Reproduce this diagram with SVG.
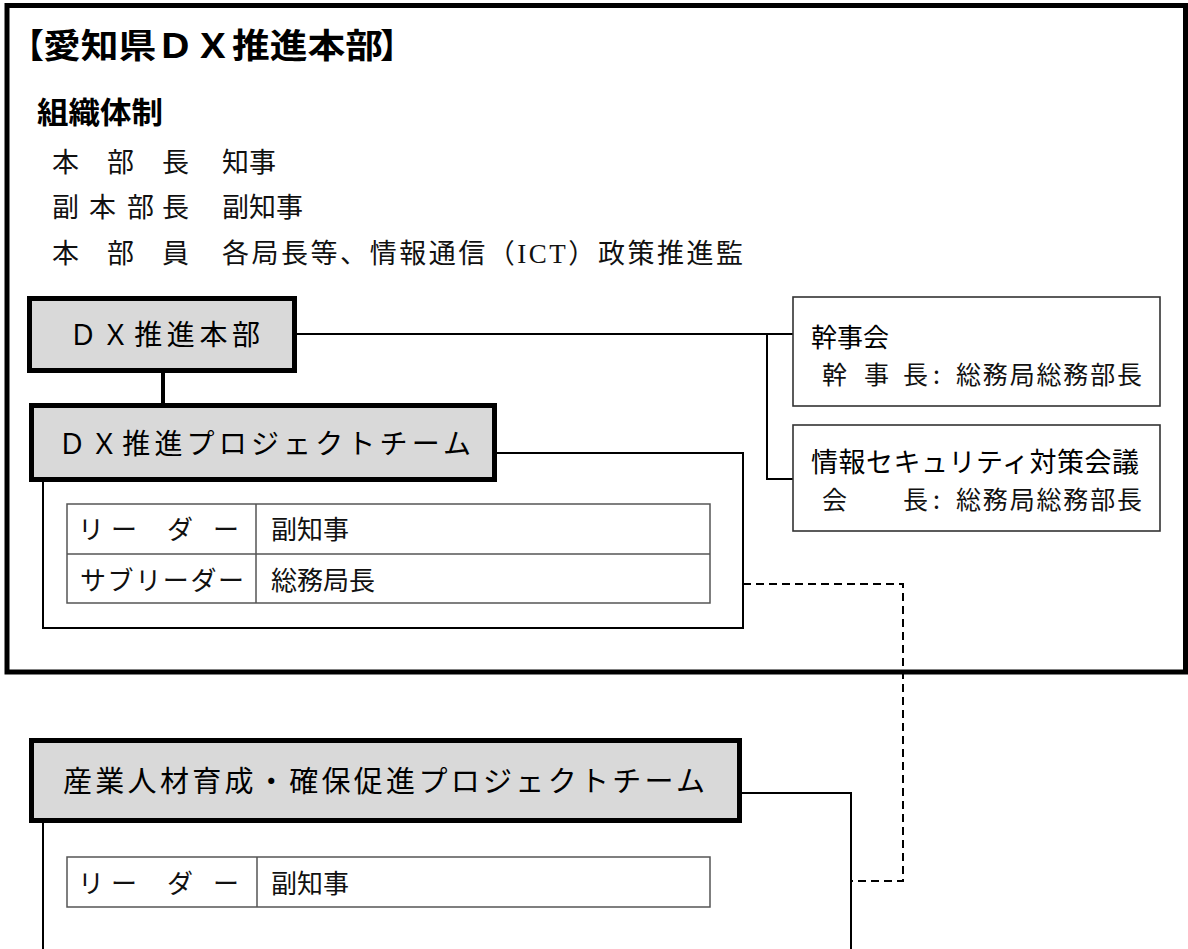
<svg xmlns="http://www.w3.org/2000/svg" width="1188" height="949" viewBox="0 0 1188 949">
<style>
.frame{fill:none;stroke:#000;stroke-width:5}
.head{fill:#d9d9d9;stroke:#000;stroke-width:5}
.sub{fill:#fff;stroke:#000;stroke-width:2}
.box{fill:#fff;stroke:#333;stroke-width:1.6}
.tbl{fill:#fff;stroke:#555;stroke-width:1.5}
.conn{fill:none;stroke:#000;stroke-width:2}
.dash{fill:none;stroke:#000;stroke-width:2;stroke-dasharray:8 5}
text{font-family:"Noto Sans CJK JP","Noto Sans",sans-serif;fill:#000}
.b{font-weight:bold}
.m{font-size:27px;fill:#111}
.t{font-size:26px;fill:#111}
.s{font-size:25px;fill:#111}
.hd{font-size:28px}
.lat{font-family:"Liberation Serif","Noto Sans CJK JP",serif}
</style>
<rect width="1188" height="949" fill="#fff"/>
<g id="hq-frame">
<rect class="frame" x="7" y="5.5" width="1178.5" height="666.5"/>
<text class="b" x="10" y="58" font-size="34">【</text>
<text class="b" x="43" y="58" font-size="34" textLength="340" lengthAdjust="spacingAndGlyphs">愛知県ＤＸ推進本部</text>
<text class="b" x="380" y="58" font-size="34">】</text>
<text class="b" x="37" y="123" font-size="30" textLength="126" lengthAdjust="spacingAndGlyphs">組織体制</text>
<text class="m" y="172"><tspan x="52">本</tspan><tspan x="107">部</tspan><tspan x="162">長</tspan><tspan x="222">知事</tspan></text>
<text class="m" y="217"><tspan x="52">副</tspan><tspan x="89">本</tspan><tspan x="127">部</tspan><tspan x="162">長</tspan><tspan x="222">副知事</tspan></text>
<text class="m" y="263"><tspan x="52">本</tspan><tspan x="107">部</tspan><tspan x="162">員</tspan></text>
<text class="m" x="222" y="263" textLength="521" lengthAdjust="spacing">各局長等、情報通信（<tspan class="lat">ICT</tspan>）政策推進監</text>
</g>
<g id="connectors">
<line class="conn" x1="297" y1="334" x2="793" y2="334"/>
<polyline class="conn" points="767,334 767,479 793,479"/>
<line x1="163" y1="373" x2="163" y2="404" stroke="#000" stroke-width="4"/>
<polyline class="dash" points="743,584 903,584 903,881 851,881"/>
</g>
<g id="node-kanjikai">
<rect class="box" x="793" y="297" width="367" height="109"/>
<text x="811" y="347" font-size="26">幹事会</text>
<text class="s" y="384"><tspan x="822">幹</tspan><tspan x="864">事</tspan><tspan x="903">長</tspan><tspan x="933">:</tspan></text>
<text class="s" x="956" y="384" textLength="186" lengthAdjust="spacing">総務局総務部長</text>
</g>
<g id="node-security">
<rect class="box" x="793" y="425" width="367" height="106"/>
<text x="811" y="472" font-size="27" textLength="328" lengthAdjust="spacing">情報セキュリティ対策会議</text>
<text class="s" y="509"><tspan x="822">会</tspan><tspan x="903">長</tspan><tspan x="933">:</tspan></text>
<text class="s" x="956" y="509" textLength="186" lengthAdjust="spacing">総務局総務部長</text>
</g>
<g id="node-dx-hq">
<rect class="head" x="29.5" y="298.5" width="265" height="72"/>
<text class="hd" x="69" y="345" textLength="191" lengthAdjust="spacing">ＤＸ推進本部</text>
</g>
<g id="node-dx-pt">
<rect class="sub" x="43" y="453" width="700" height="175"/>
<rect class="head" x="31.5" y="405.5" width="463" height="74"/>
<text class="hd" x="58" y="454" textLength="413" lengthAdjust="spacing">ＤＸ推進プロジェクトチーム</text>
<rect class="tbl" x="67" y="504" width="643" height="99"/>
<line class="tbl" x1="67" y1="554" x2="710" y2="554"/>
<line class="tbl" x1="256" y1="504" x2="256" y2="603"/>
<text class="t" y="539"><tspan x="78">リ</tspan><tspan x="111">ー</tspan><tspan x="167">ダ</tspan><tspan x="213">ー</tspan></text>
<text class="t" x="271" y="539">副知事</text>
<text class="t" x="80" y="590" textLength="164" lengthAdjust="spacing">サブリーダー</text>
<text class="t" x="271" y="590">総務局長</text>
</g>
<g id="node-industry-pt">
<rect class="sub" x="43" y="793" width="808" height="180"/>
<rect class="head" x="31.5" y="740.5" width="708" height="80"/>
<text x="63" y="792" font-size="29" textLength="642" lengthAdjust="spacing">産業人材育成・確保促進プロジェクトチーム</text>
<rect class="tbl" x="67" y="857" width="643" height="50"/>
<line class="tbl" x1="257" y1="857" x2="257" y2="907"/>
<text class="t" y="893"><tspan x="78">リ</tspan><tspan x="111">ー</tspan><tspan x="167">ダ</tspan><tspan x="213">ー</tspan></text>
<text class="t" x="271" y="893">副知事</text>
</g>
</svg>
